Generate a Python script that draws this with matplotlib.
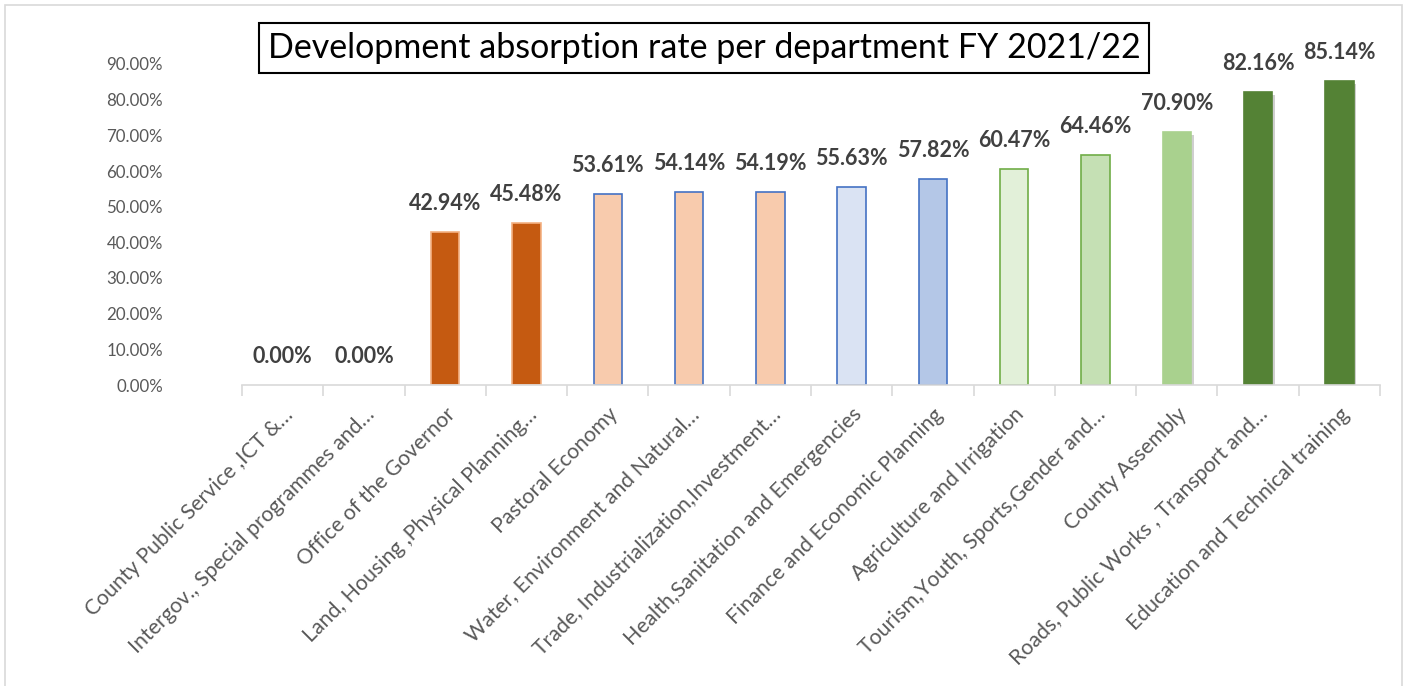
import matplotlib
matplotlib.use("Agg")
import matplotlib.pyplot as plt
import matplotlib.patheffects as pe
from matplotlib.patches import Rectangle
import numpy as np

categories = [
    "County Public Service ,ICT &…",
    "Intergov., Special programmes and…",
    "Office of the Governor",
    "Land, Housing ,Physical Planning…",
    "Pastoral Economy",
    "Water, Environment and Natural…",
    "Trade, Industrialization,Investment…",
    "Health,Sanitation and Emergencies",
    "Finance and Economic Planning",
    "Agriculture and Irrigation",
    "Tourism,Youth, Sports,Gender and…",
    "County Assembly",
    "Roads, Public Works , Transport and…",
    "Education and Technical training",
]
values = [0.00, 0.00, 42.94, 45.48, 53.61, 54.14, 54.19, 55.63, 57.82, 60.47, 64.46, 70.90, 82.16, 85.14]
fill_colors = ["#C55A11", "#C55A11", "#C55A11", "#C55A11", "#F8CBAD", "#F8CBAD", "#F8CBAD",
               "#DAE3F3", "#B4C7E7", "#E2F0D9", "#C5E0B4", "#A9D18E", "#548235", "#548235"]
edge_colors = ["none", "none", "#F4B183", "#F4B183", "#4472C4", "#4472C4", "#4472C4",
               "#4472C4", "#4472C4", "#70AD47", "#70AD47", "#A9D18E", "#548235", "#548235"]
shadowed = [False] * 11 + [True, True, True]
title = "Development absorption rate per department FY 2021/22"
yticks = [0, 10, 20, 30, 40, 50, 60, 70, 80, 90]

plt.rcParams['font.family'] = ['Lato', 'DejaVu Sans']

W, H = 1406, 686
fig = plt.figure(figsize=(W / 100, H / 100), dpi=100)
fig.patches.append(Rectangle((5 / W, -0.01), (W - 9) / W, 1 - 5 / H + 0.01,
                             transform=fig.transFigure, fill=False,
                             edgecolor="#D9D9D9", linewidth=1.2))

ax = fig.add_axes([242 / W, (H - 385) / H, (1380 - 242) / W, (385 - 64) / H])
x = np.arange(len(values))
bars = ax.bar(x, values, width=0.35, color=fill_colors, edgecolor=edge_colors, linewidth=1.2, zorder=3)
for b, s in zip(bars, shadowed):
    if s:
        b.set_path_effects([pe.SimplePatchShadow(offset=(2, -2), shadow_rgbFace="#777777", alpha=0.35),
                            pe.Normal()])

for xi, v in zip(x, values):
    ax.annotate(f"{v:.2f}%", (xi, v), xytext=(0, 13), textcoords="offset points",
                ha="center", va="bottom", fontsize=15.5, fontweight="bold", color="#404040")

ax.set_xlim(-0.5, len(values) - 0.5)
ax.set_ylim(0, 90)
ax.set_yticks(yticks)
ax.set_yticklabels([f"{t:.2f}%" for t in yticks], fontsize=12.2, color="#595959")
ax.set_xticks(x)
ax.set_xticklabels(categories, rotation=45, ha="right", va="top", rotation_mode="anchor",
                   fontsize=15.3, color="#595959")
ax.set_xticks(np.arange(-0.5, len(values), 1.0), minor=True)
ax.tick_params(axis="x", which="major", length=0, pad=14)
ax.tick_params(axis="x", which="minor", length=8, color="#D9D9D9", width=1.2)
ax.tick_params(axis="y", length=0, pad=57)
for s in ["top", "right", "left"]:
    ax.spines[s].set_visible(False)
ax.spines["bottom"].set_color("#D9D9D9")
ax.spines["bottom"].set_linewidth(1.2)
ax.spines["bottom"].set_zorder(4)

fig.text(704 / W, (H - 48) / H, title, ha="center", va="center", fontsize=24.5, color="black",
         bbox=dict(boxstyle="square,pad=0.25", facecolor="white", edgecolor="black", linewidth=1.5))

fig.savefig("out.png", dpi=100)
